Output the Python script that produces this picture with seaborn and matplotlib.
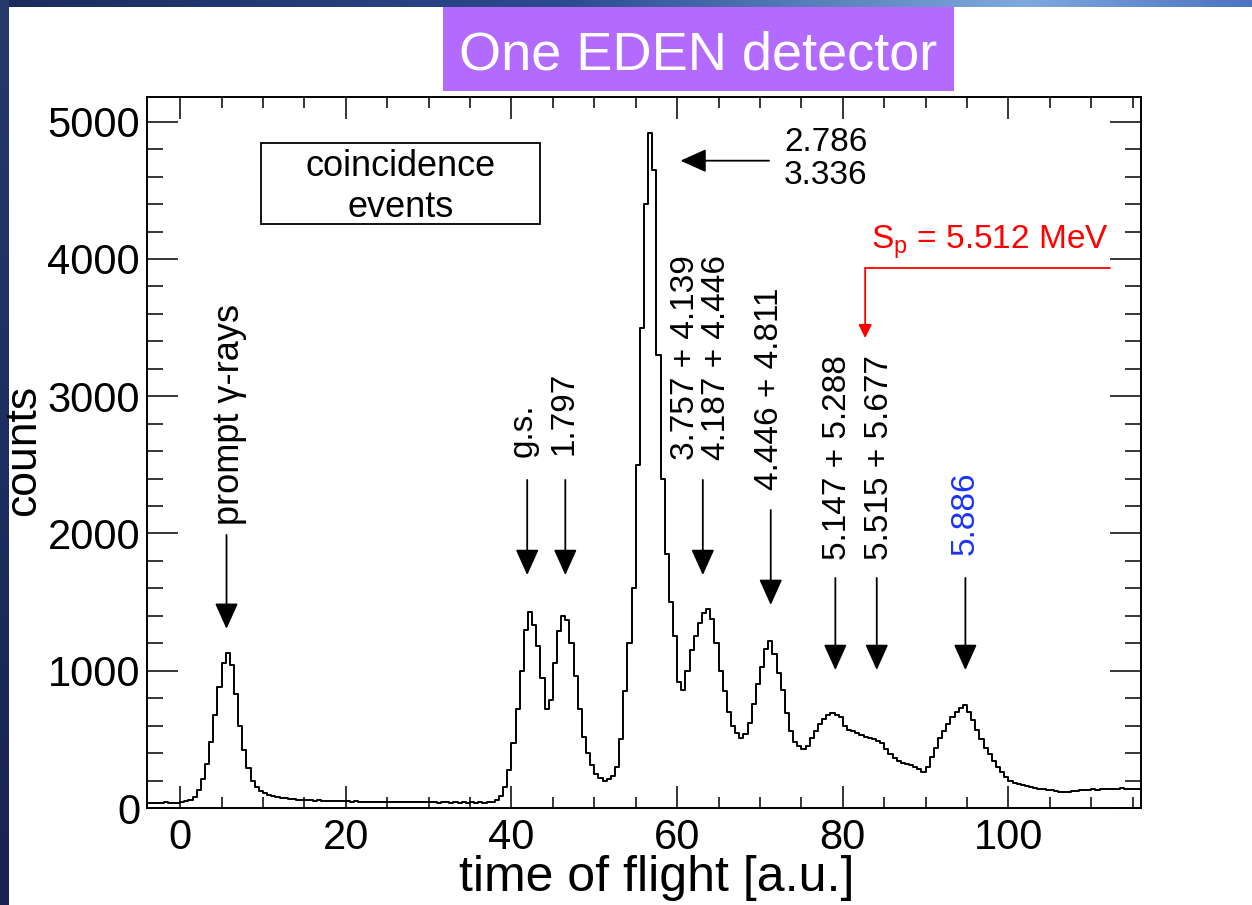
import numpy as np
import pandas as pd
import matplotlib
matplotlib.use("Agg")
import matplotlib.pyplot as plt
import seaborn as sns
from matplotlib.patches import Rectangle
from matplotlib.ticker import MultipleLocator
from matplotlib.colors import LinearSegmentedColormap

# ---------------- data ----------------
bin_width = 0.5
tof_start = -4.0
counts = [
    # -4 .. 1
    38, 40, 37, 39, 41, 38, 40, 39, 42, 48,
    # 1 .. 15  (prompt gamma peak)
    60, 80, 130, 210, 320, 480, 680, 880, 1060, 1130,
    1040, 830, 600, 420, 290, 200, 150, 125, 110, 98,
    88, 80, 74, 70, 66, 63, 60, 58,
    # 15 .. 38.5
    57, 55, 54, 56, 52, 51, 53, 50, 49, 51,
    48, 47, 49, 46, 47, 45, 47, 44, 46, 45,
    43, 45, 44, 42, 44, 43, 41, 43, 42, 44,
    41, 42, 40, 43, 41, 40, 42, 39, 41, 40,
    42, 39, 41, 40, 43, 46, 55,
    # 38.5 .. 54
    90, 150, 280, 470, 720, 1000, 1300, 1430, 1330, 1180,
    950, 720, 790, 1060, 1290, 1400, 1370, 1200, 960, 720,
    520, 400, 310, 250, 215, 200, 210, 230, 300, 500,
    850,
    # 54 .. 61 (main peak)
    1200, 1600, 2500, 3500, 4400, 4920, 4650, 3300, 2400, 1850,
    1500, 1250, 920, 860,
    # 61 .. 116
    1000, 1150, 1250, 1350, 1420, 1450, 1380, 1200, 1000, 850,
    700, 600, 545, 510, 540, 620, 760, 900, 1030, 1160,
    1220, 1120, 980, 860, 690, 560, 480, 450, 430, 450,
    510, 560, 610, 650, 680, 690, 680, 660, 600, 570,
    560, 545, 530, 520, 510, 505, 490, 470, 430, 390,
    365, 345, 330, 320, 310, 300, 285, 265, 300, 370,
    440, 510, 560, 610, 660, 700, 730, 750, 700, 640,
    570, 500, 440, 390, 340, 300, 260, 225, 200, 185,
    175, 165, 158, 152, 147, 140, 136, 131, 128, 124,
    120, 119, 118, 121, 125, 130, 128, 133, 135, 132,
    137, 140, 138, 142, 140, 144, 139, 142, 137, 140,
]
tof_centers = tof_start + bin_width * (np.arange(len(counts)) + 0.5)

peak_labels = ["prompt γ-rays", "g.s.", "1.797",
               "3.757 + 4.139\n4.187 + 4.446", "4.446 + 4.811",
               "5.147 + 5.288", "5.515 + 5.677", "5.886"]
peak_label_colors = ["black"] * 7 + ["#1a33ff"]
peak_label_sizes = [26, 24, 24, 24, 24, 24, 24, 24]
peak_label_x = [5.9, 41.4, 46.4, 62.9, 71.2, 79.4, 84.4, 94.8]
peak_label_bottom = [2062, 2560, 2572, 2535, 2317, 1807, 1807, 1843]
arrow_x = [5.6, 41.9, 46.5, 63.1, 71.3, 79.1, 84.1, 94.8]
arrow_tail = [1990, 2390, 2390, 2390, 2171, 1676, 1676, 1676]
arrow_tip = [1305, 1697, 1697, 1697, 1479, 1005, 1005, 1005]

main_peak_label = "2.786\n3.336"
sp_label = r"S$_\mathregular{p}$ = 5.512 MeV"

# ---------------- style ----------------
sns.set_style("ticks")
plt.rcParams["font.family"] = ["Liberation Sans", "DejaVu Sans"]
plt.rcParams["mathtext.fontset"] = "custom"
plt.rcParams["mathtext.rm"] = "Liberation Sans"
plt.rcParams["text.color"] = "black"
plt.rcParams["axes.labelcolor"] = "black"

W, H = 1252, 905
fig = plt.figure(figsize=(W / 100, H / 100), dpi=100, facecolor="white")

# slide decoration: top gradient bar and left strip
cm_top = LinearSegmentedColormap.from_list(
    "top", [(0, "#1b2b5a"), (0.45, "#2c4a90"), (0.82, "#7faadf"), (1, "#4d72c0")])
axb = fig.add_axes([0, 1 - 7 / H, 1, 7 / H])
axb.imshow(np.linspace(0, 1, 256)[None, :], aspect="auto", cmap=cm_top)
axb.set_axis_off()
cm_left = LinearSegmentedColormap.from_list("left", ["#25396c", "#172350"])
axl = fig.add_axes([0, 0, 9 / W, 1])
axl.imshow(np.linspace(0, 1, 256)[:, None], aspect="auto", cmap=cm_left)
axl.set_axis_off()

# title box
fig.patches.append(Rectangle((443 / W, 1 - 91 / H), (954 - 443) / W, (91 - 7) / H,
                             transform=fig.transFigure, facecolor="#b36bff",
                             edgecolor="none", zorder=0))
fig.text(698 / W, 1 - 69 / H, "One EDEN detector", color="white", fontsize=39,
         ha="center", va="baseline")

# ---------------- main axes ----------------
ax = fig.add_axes([147 / W, 1 - 808 / H, (1141 - 147) / W, (808 - 97) / H])
df = pd.DataFrame({"tof": tof_centers, "counts": counts})
sns.histplot(data=df, x="tof", weights="counts", binwidth=bin_width,
             binrange=(tof_start, tof_start + bin_width * len(counts)),
             element="step", fill=False, color="black", linewidth=1.4, ax=ax)

ax.set_xlim(-4, 116)
ax.set_ylim(0, 5180)
ax.xaxis.set_major_locator(MultipleLocator(20))
ax.xaxis.set_minor_locator(MultipleLocator(5))
ax.yaxis.set_major_locator(MultipleLocator(1000))
ax.yaxis.set_minor_locator(MultipleLocator(200))
ax.tick_params(which="both", direction="in", top=True, right=True,
               width=1.1, color="black", labelcolor="black")
ax.tick_params(axis="x", which="major", length=16, labelsize=30, pad=7)
ax.tick_params(axis="x", which="minor", length=8)
ax.tick_params(axis="y", which="major", length=22, labelsize=30, pad=5)
ax.tick_params(axis="y", which="minor", length=11.5)
for s in ax.spines.values():
    s.set_linewidth(1.4)
    s.set_color("black")

ax.set_xlabel("time of flight [a.u.]", fontsize=36)
ax.set_ylabel("counts", fontsize=32)
ax.xaxis.set_label_coords((657 - 147) / 994, -0.066)
ax.yaxis.set_label_coords(-0.103, (808 - 450) / 711)

# coincidence box
ax.add_patch(Rectangle((9.8, 4255), 43.4 - 9.8, 4845 - 4255, fill=False,
                       edgecolor="black", linewidth=1.3))
ax.text(26.6, 4525, "coincidence\nevents", ha="center", va="center",
        fontsize=26, linespacing=1.25)

# peak arrows and labels
for lab, col, fs, lx, lb, axx, at, ap in zip(peak_labels, peak_label_colors,
                                             peak_label_sizes, peak_label_x,
                                             peak_label_bottom, arrow_x,
                                             arrow_tail, arrow_tip):
    ax.annotate("", xy=(axx, ap), xytext=(axx, at),
                arrowprops=dict(arrowstyle="-|>,head_length=1.0,head_width=0.45",
                                mutation_scale=16, color="black", lw=1.3,
                                shrinkA=0, shrinkB=0))
    ax.text(lx, lb, lab, rotation=90, ha="center", va="bottom", color=col,
            fontsize=fs, linespacing=1.0)

# main peak arrow
ax.annotate("", xy=(60.4, 4716), xytext=(71.1, 4716),
            arrowprops=dict(arrowstyle="-|>,head_length=1.0,head_width=0.45",
                            mutation_scale=16, color="black", lw=1.3,
                            shrinkA=0, shrinkB=0))
ax.text(72.9, 4728, main_peak_label, ha="left", va="center", fontsize=24,
        linespacing=1.1)

# S_p marker
ax.plot([112.3, 82.7], [3934, 3934], color="red", lw=1.3)
ax.annotate("", xy=(82.7, 3424), xytext=(82.7, 3934),
            arrowprops=dict(arrowstyle="-|>,head_length=0.5,head_width=0.25",
                            mutation_scale=16, color="red", lw=1.3,
                            shrinkA=0, shrinkB=0))
ax.text(112.1, 4080, sp_label, color="red", ha="right", va="baseline", fontsize=24)

fig.savefig("out.png", dpi=100, facecolor="white")
